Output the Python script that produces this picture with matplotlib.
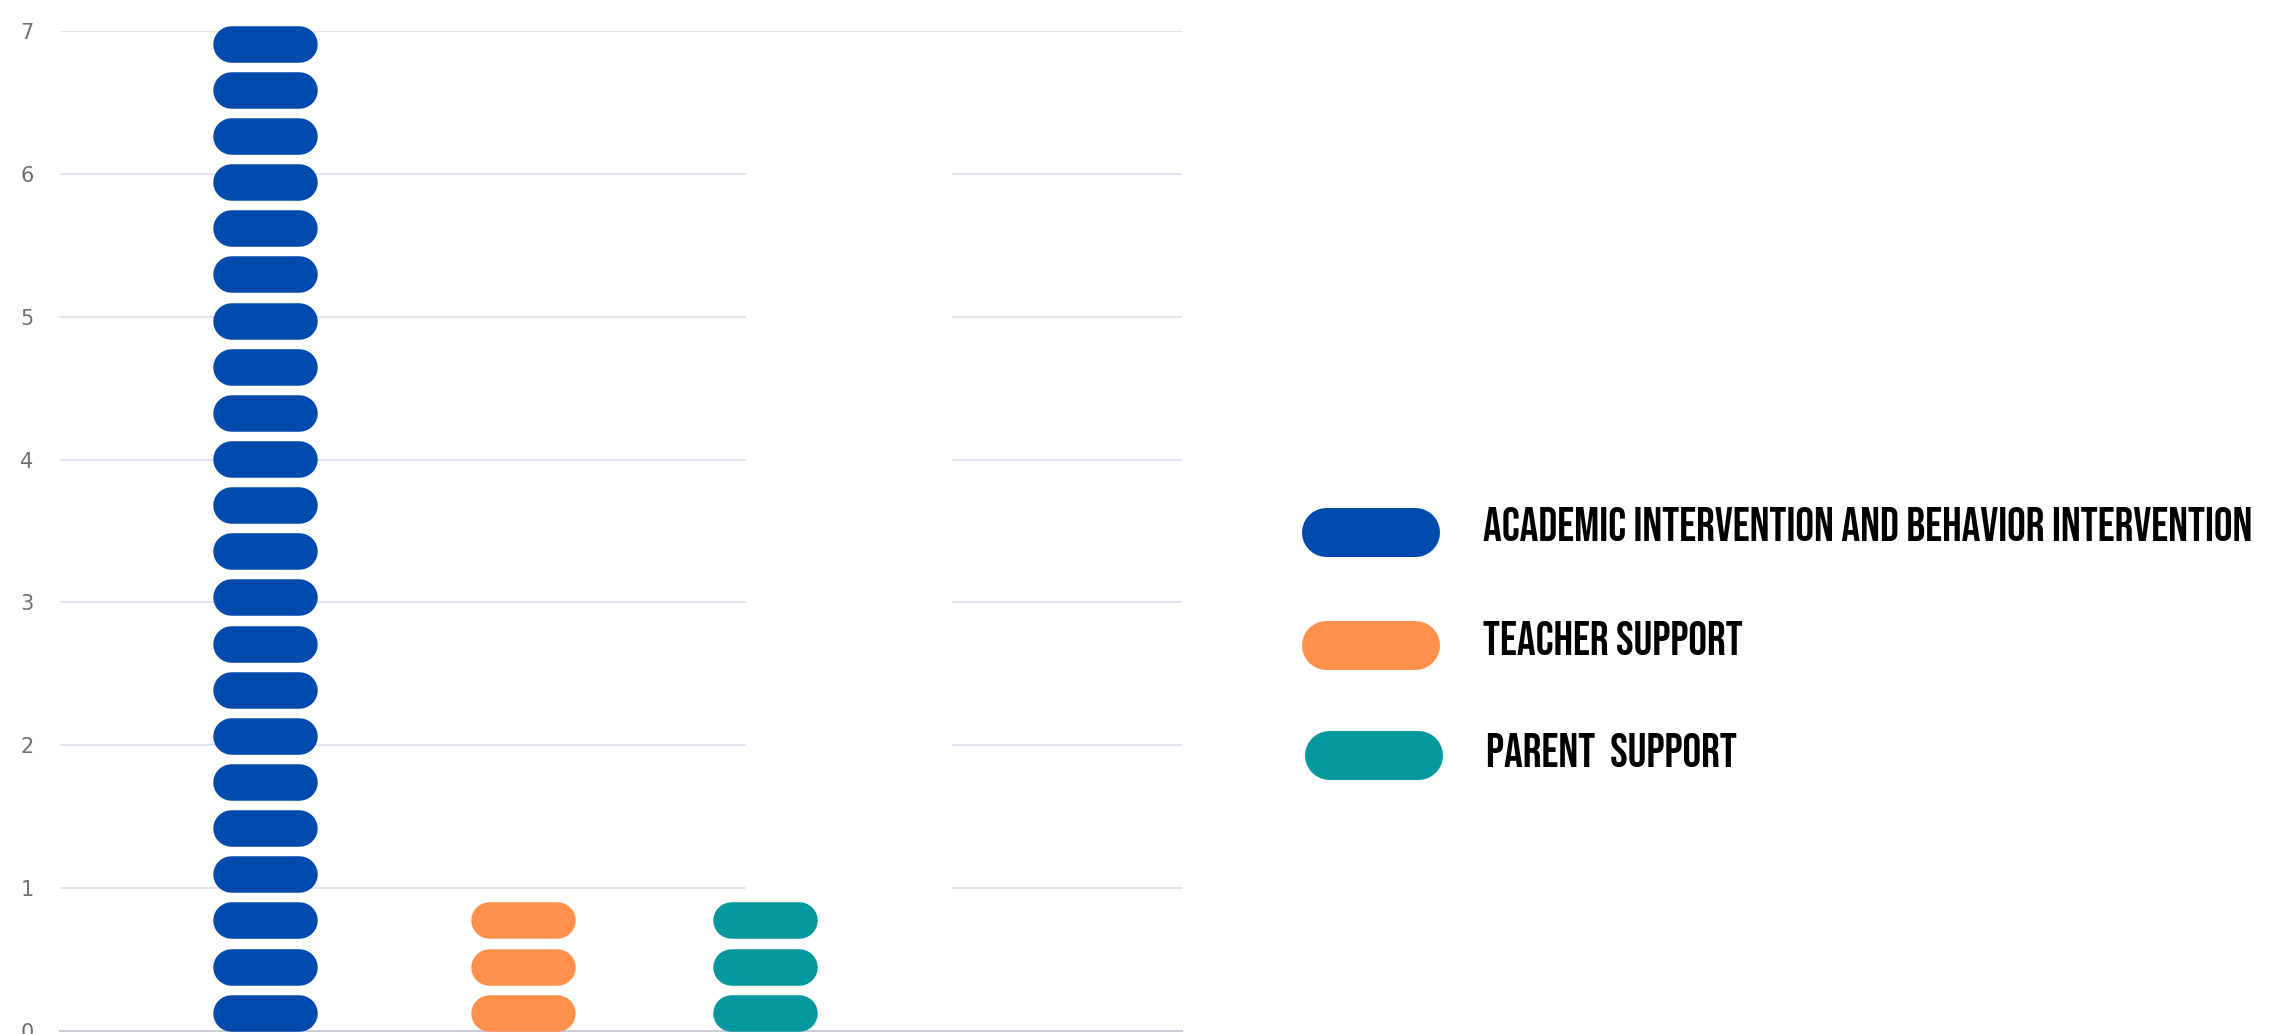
import numpy as np
import matplotlib
matplotlib.use('Agg')
import matplotlib.pyplot as plt
from matplotlib.patches import Rectangle

# data
categories = ['ACADEMIC INTERVENTION AND BEHAVIOR INTERVENTION',
              'TEACHER SUPPORT',
              'PARENT  SUPPORT']
values = [7, 1, 1]
colors = ['#004AAD', '#FF914D', '#03989E']
y_ticks = [0, 1, 2, 3, 4, 5, 6, 7]

W, H, DPI = 2286, 1034, 100

# pixel geometry of the plot area
ax_left, ax_right = 60, 1182
ax_top, ax_bottom = 31, 1031
band_px = 250.0           # distance between category centres
first_px = 265.0          # centre of first category
x_pos = [0, 1.032, 2]     # column centres (in band units)

pill_pitch = 0.323        # y units per repeated symbol
pill_h_px = 36.5
pill_w_px = 104.0

fig = plt.figure(figsize=(W / DPI, H / DPI), dpi=DPI)
ax = fig.add_axes([ax_left / W, (H - ax_bottom) / H,
                   (ax_right - ax_left) / W, (ax_bottom - ax_top) / H])

x_min = -(first_px - ax_left) / band_px
x_max = (ax_right - first_px) / band_px
ax.set_xlim(x_min, x_max)
ax.set_ylim(0, 7)

x_per_px = (x_max - x_min) / (ax_right - ax_left)
y_per_px = 7.0 / (ax_bottom - ax_top)

# grid / axes
ax.set_yticks(y_ticks)
ax.set_yticklabels([str(t) for t in y_ticks], family='DejaVu Sans',
                   fontsize=15, color='#6E7079')
ax.tick_params(axis='y', length=0, pad=19)
ax.set_xticks([])
ax.grid(axis='y', color='#E0E6F1', linewidth=1.4, zorder=0)
ax.set_axisbelow(True)
for s in ['top', 'right', 'left']:
    ax.spines[s].set_visible(False)
ax.spines['bottom'].set_color('#C9CCD4')
ax.spines['bottom'].set_linewidth(1.4)

# blank (white) placeholder column hiding part of the grid
gap_x = 2.336
gap_w = 206 * x_per_px
ax.add_patch(Rectangle((gap_x - gap_w / 2, 0.97), gap_w, 6.02,
                       fc='white', ec='none', zorder=2))

# pictorial bars: repeated rounded symbols (thick lines with round caps)
lw_pt = pill_h_px * 72.0 / DPI
half_len = (pill_w_px / 2 - pill_h_px / 2) * x_per_px
pill_h = pill_h_px * y_per_px
for x, v, c in zip(x_pos, values, colors):
    n = int(round(v / pill_pitch))
    for k in range(n):
        yc = k * pill_pitch + pill_h / 2
        ax.plot([x - half_len, x + half_len], [yc, yc], color=c, lw=lw_pt,
                solid_capstyle='round', zorder=3, clip_on=False)

# legend drawn in pixel coordinates
lax = fig.add_axes([0, 0, 1, 1])
lax.set_xlim(0, W)
lax.set_ylim(H, 0)
lax.axis('off')

leg_pill_y = [531.5, 645, 755]
leg_pill_x = [1301, 1301, 1304]
leg_text_y = [541, 655, 767]
leg_text_x = [1483, 1483, 1486]
lh, lw = 49, 138
for c, label, py, px, ty, tx in zip(colors, categories, leg_pill_y,
                                    leg_pill_x, leg_text_y, leg_text_x):
    lax.plot([px + lh / 2, px + lw - lh / 2], [py, py], color=c,
             lw=lh * 72.0 / DPI, solid_capstyle='round')
    lax.text(tx, ty, label, ha='left', va='baseline',
             family=['Bebas Neue', 'DejaVu Sans'],
             fontsize=33.7, color='black')

fig.savefig('out.png', dpi=DPI, facecolor='white')
